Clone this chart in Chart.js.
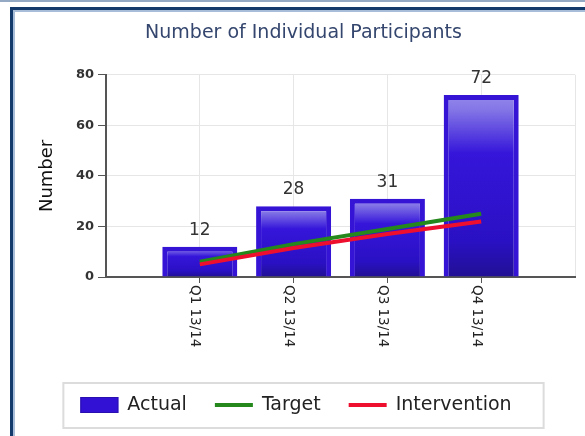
<!DOCTYPE html>
<html>
<head>
<meta charset="utf-8">
<script src="https://cdn.jsdelivr.net/npm/chart.js@4/dist/chart.umd.min.js"></script>
<style>
  html, body { margin: 0; padding: 0; background: #fff; overflow: hidden; }
  #wrap { position: relative; width: 585px; height: 436px; overflow: hidden; }
  #topline { position: absolute; left: 0; top: 0; width: 585px; height: 2px; background: #93a9c4; }
  #frame { position: absolute; left: 10px; top: 7px; width: 640px; height: 480px; border: 3px solid #14396b; box-shadow: inset 2px 2px 0 #a8bdd8; }
  canvas { position: absolute; left: 0; top: 0; }
</style>
</head>
<body>
<div id="wrap">
  <div id="topline"></div>
  <div id="frame"></div>
  <canvas id="chart" width="585" height="436"></canvas>
</div>
<script>
const FONT = '"DejaVu Sans", sans-serif';

// data
const quarters = ['Q1 13/14', 'Q2 13/14', 'Q3 13/14', 'Q4 13/14'];
const actual = [12, 28, 31, 72];
const target = [6, 13, 19, 25];
const intervention = [5, 11.5, 17, 22];
const yTicks = [0, 20, 40, 60, 80];

// empty slot on each side, the axis runs one category past the first and last quarter
const labels = ['', ...quarters, ''];
const pad = arr => [null, ...arr, null];

Chart.defaults.font.family = FONT;

function barFill(ctx) {
  const chart = ctx.chart;
  if (!chart.chartArea || ctx.raw == null) return '#3311d4';
  const y = chart.scales.y;
  const top = y.getPixelForValue(ctx.raw);
  const bottom = y.getPixelForValue(0);
  const g = chart.ctx.createLinearGradient(0, top, 0, bottom);
  g.addColorStop(0, '#9488ec');
  g.addColorStop(0.08, '#8476e6');
  g.addColorStop(0.32, '#3516da');
  g.addColorStop(0.8, '#2a10c4');
  g.addColorStop(1, '#221094');
  return g;
}

// value labels above the bars
const barValues = {
  id: 'barValues',
  afterDatasetsDraw(chart) {
    const c = chart.ctx;
    const meta = chart.getDatasetMeta(0);
    const data = chart.data.datasets[0].data;
    c.save();
    c.font = '17px ' + FONT;
    c.fillStyle = '#333';
    c.textAlign = 'center';
    c.textBaseline = 'alphabetic';
    meta.data.forEach((bar, i) => {
      if (data[i] == null) return;
      c.fillText(String(data[i]), bar.x, bar.y - 12);
    });
    c.restore();
  }
};

// x labels read top to bottom (rotated clockwise)
const xLabels = {
  id: 'xLabels',
  afterDraw(chart) {
    const s = chart.scales.x;
    const c = chart.ctx;
    c.save();
    c.font = '13.5px ' + FONT;
    c.fillStyle = '#222';
    c.textAlign = 'left';
    c.textBaseline = 'middle';
    chart.data.labels.forEach((lbl, i) => {
      if (!lbl) return;
      c.save();
      c.translate(s.getPixelForValue(i) - 5, s.top + 8);
      c.rotate(Math.PI / 2);
      c.fillText(lbl, 0, 0);
      c.restore();
    });
    c.restore();
  }
};

// boxed legend under the chart
const legendBox = {
  id: 'legendBox',
  afterDraw(chart) {
    const c = chart.ctx;
    const p = chart.options.layout.padding;
    const mid = (p.left + chart.width - p.right) / 2;
    const sw = 38, gap = 9, sp = 28, cy = 405;
    c.save();
    c.font = '19px ' + FONT;
    const items = chart.data.datasets.map(ds => ({ ds, w: c.measureText(ds.label).width }));
    const total = items.reduce((s, it) => s + sw + gap + it.w, 0) + sp * (items.length - 1);
    const boxW = total + 17 + 32;
    const boxL = mid - boxW / 2;
    c.strokeStyle = '#dcdcdc';
    c.lineWidth = 2;
    c.strokeRect(boxL, 383, boxW, 45);
    let x = boxL + 17;
    items.forEach(({ ds, w }) => {
      if (ds.type === 'line') {
        c.strokeStyle = ds.borderColor;
        c.lineWidth = 4;
        c.beginPath();
        c.moveTo(x, cy);
        c.lineTo(x + sw, cy);
        c.stroke();
      } else {
        c.fillStyle = '#3311d4';
        c.fillRect(x, cy - 8, sw, 16);
        c.strokeStyle = '#2a0fb0';
        c.lineWidth = 1;
        c.strokeRect(x + 0.5, cy - 7.5, sw - 1, 15);
      }
      c.fillStyle = '#222';
      c.textAlign = 'left';
      c.textBaseline = 'middle';
      c.fillText(ds.label, x + sw + gap, cy);
      x += sw + gap + w + sp;
    });
    c.restore();
  }
};

new Chart(document.getElementById('chart'), {
  type: 'bar',
  data: {
    labels,
    datasets: [
      { type: 'bar', label: 'Actual', data: pad(actual), order: 3,
        backgroundColor: barFill, borderColor: '#3614d6', borderWidth: 5, borderSkipped: 'start',
        barPercentage: 0.8, categoryPercentage: 1 },
      { type: 'line', label: 'Target', data: pad(target), order: 2,
        borderColor: '#24881c', borderWidth: 4, pointRadius: 0, tension: 0, fill: false },
      { type: 'line', label: 'Intervention', data: pad(intervention), order: 1,
        borderColor: '#ee0f2f', borderWidth: 4, pointRadius: 0, tension: 0, fill: false }
    ]
  },
  options: {
    responsive: false,
    animation: false,
    events: [],
    layout: { padding: { top: 10, left: 32, right: 10, bottom: 84 } },
    plugins: {
      legend: { display: false },
      tooltip: { enabled: false },
      title: {
        display: true, text: 'Number of Individual Participants', color: '#34466e',
        font: { size: 19, weight: 'normal' }, padding: { top: 12, bottom: 30 }
      }
    },
    scales: {
      x: {
        offset: false,
        grid: {
          offset: false, color: '#e6e6e6', tickLength: 6,
          tickColor: c => (c.index > 0 && c.index < labels.length - 1) ? '#555' : 'rgba(0,0,0,0)'
        },
        border: { color: '#555', width: 2 },
        ticks: { display: false },
        afterFit(scale) { scale.height = 75; }
      },
      y: {
        min: 0, max: 80,
        afterBuildTicks(scale) { scale.ticks = yTicks.map(v => ({ value: v })); },
        ticks: { color: '#333', padding: 4, font: { size: 13, weight: 'bold' } },
        grid: { color: '#e6e6e6', tickColor: '#555', tickLength: 8 },
        border: { color: '#555', width: 2 },
        title: {
          display: true, text: 'Number', color: '#111',
          font: { size: 18 }, padding: { top: 5, bottom: 0 }
        },
        afterFit(scale) { scale.width = 74; }
      }
    }
  },
  plugins: [barValues, xLabels, legendBox]
});
</script>
</body>
</html>
